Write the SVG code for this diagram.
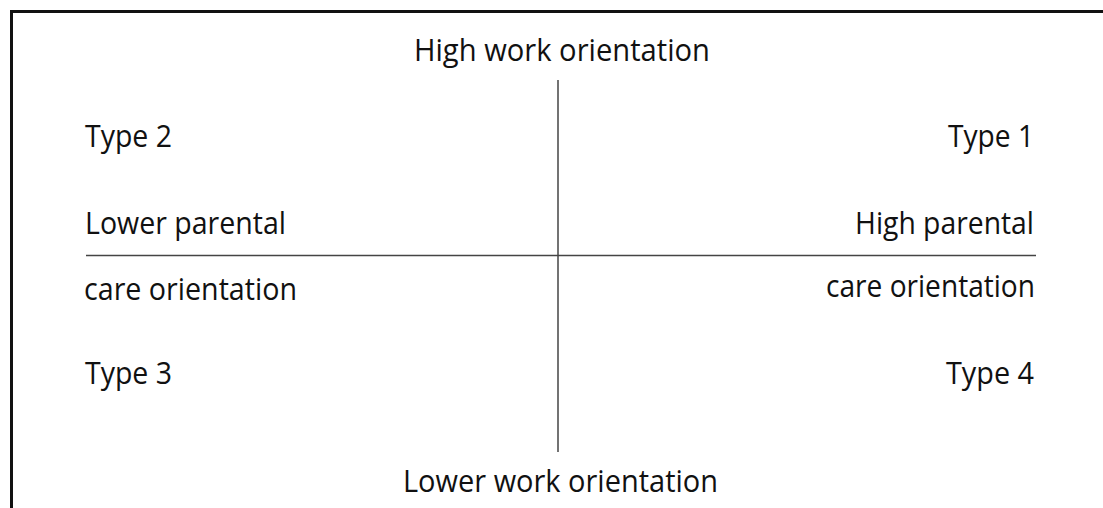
<svg xmlns="http://www.w3.org/2000/svg" width="1103" height="508" viewBox="0 0 1103 508">
<style>
text{font-family:"Open Sans","Noto Sans",sans-serif;font-size:31px;fill:#111}
.ax{stroke:#444;stroke-width:1.5;fill:none}
</style>
<rect width="1103" height="508" fill="#fff"/>
<path d="M11.5 508V11.5H1103" stroke="#111" stroke-width="3" fill="none"/>
<g id="connectors">
<line class="ax" x1="558" y1="80" x2="558" y2="452"/>
<line class="ax" x1="86" y1="255.5" x2="1036" y2="255.5"/>
</g>
<g id="top"><text x="414" y="61" textLength="296" lengthAdjust="spacingAndGlyphs">High work orientation</text></g>
<g id="bottom"><text x="403" y="492" textLength="315" lengthAdjust="spacingAndGlyphs">Lower work orientation</text></g>
<g id="type2"><text x="85" y="147" textLength="87" lengthAdjust="spacingAndGlyphs">Type 2</text></g>
<g id="type1"><text x="948" y="147" textLength="86" lengthAdjust="spacingAndGlyphs">Type 1</text></g>
<g id="left"><text x="85" y="234" textLength="201" lengthAdjust="spacingAndGlyphs">Lower parental</text><text x="84" y="300" textLength="213" lengthAdjust="spacingAndGlyphs">care orientation</text></g>
<g id="right"><text x="855" y="234" textLength="179" lengthAdjust="spacingAndGlyphs">High parental</text><text x="826" y="297" textLength="209" lengthAdjust="spacingAndGlyphs">care orientation</text></g>
<g id="type3"><text x="85" y="384" textLength="87" lengthAdjust="spacingAndGlyphs">Type 3</text></g>
<g id="type4"><text x="946" y="384" textLength="88" lengthAdjust="spacingAndGlyphs">Type 4</text></g>
</svg>
